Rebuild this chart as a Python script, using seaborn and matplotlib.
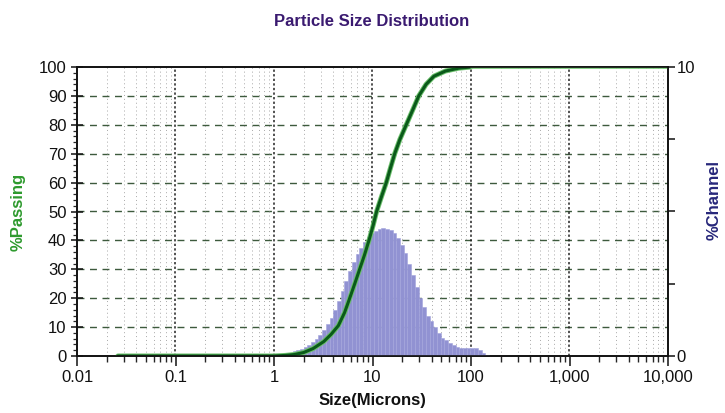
import numpy as np
import pandas as pd
import seaborn as sns
import matplotlib
matplotlib.use("Agg")
import matplotlib.pyplot as plt
import matplotlib.patheffects as pe
from matplotlib.ticker import FixedLocator, FixedFormatter, NullFormatter

# channel edges (microns) and % in each channel
channel_edges = [1.00, 1.09, 1.19, 1.30, 1.41, 1.54, 1.68, 1.83, 2.00, 2.18,
                 2.38, 2.59, 2.83, 3.08, 3.36, 3.67, 4.00, 4.36, 4.76, 5.19,
                 5.66, 6.17, 6.73, 7.34, 8.00, 8.72, 9.51, 10.37, 11.31, 12.34,
                 13.45, 14.67, 16.00, 17.45, 19.03, 20.75, 22.63, 24.68, 26.91, 29.34,
                 32.00, 34.90, 38.05, 41.50, 45.25, 49.35, 53.82, 58.69, 64.00, 69.79,
                 76.11, 83.00, 90.51, 98.70, 107.6, 117.4, 128.0, 139.6, 152.2]
channel_pct = [0.02, 0.04, 0.06, 0.09, 0.12, 0.16, 0.20, 0.25, 0.31, 0.38,
               0.47, 0.58, 0.72, 0.90, 1.10, 1.33, 1.60, 1.90, 2.25, 2.60,
               2.95, 3.25, 3.52, 3.75, 3.95, 4.12, 4.25, 4.34, 4.40, 4.42,
               4.40, 4.35, 4.25, 4.08, 3.85, 3.55, 3.20, 2.80, 2.40, 2.02,
               1.68, 1.38, 1.20, 1.00, 0.80, 0.62, 0.55, 0.44, 0.37, 0.31,
               0.28, 0.27, 0.27, 0.28, 0.27, 0.20, 0.10, 0.03]

# cumulative % passing curve
curve_size = [0.026, 0.1, 0.5, 1.0, 1.3, 1.6, 2.0, 2.5, 3.2, 3.8, 4.5, 5.2, 5.8,
              6.6, 7.4, 8.3, 9.3, 10.2, 11.0, 12.3, 13.8, 15.2, 16.8, 19.0, 22.0,
              25.5, 29.5, 35.0, 42.0, 55.0, 75.0, 100.0]
curve_pass = [0, 0, 0, 0, 0.2, 0.5, 1.2, 2.6, 5.0, 7.5, 10.5, 15.0, 19.5,
              25.0, 30.0, 35.0, 40.5, 45.5, 50.0, 55.0, 60.0, 65.0, 70.0, 75.0, 80.0,
              85.0, 90.0, 94.0, 96.8, 98.6, 99.6, 100.0]
# flat tail at 100 % beyond the top size
tail_size = [100.0, 10000.0]
tail_pass = [100.0, 100.0]

x_ticks = [0.01, 0.1, 1, 10, 100, 1000, 10000]
x_labels = ["0.01", "0.1", "1", "10", "100", "1,000", "10,000"]

sns.set_style("white")
plt.rcParams["font.family"] = ["Liberation Sans", "DejaVu Sans"]

fig = plt.figure(figsize=(7.25, 4.13), dpi=100)
ax = fig.add_axes([77 / 725, 1 - 356 / 413, 591 / 725, 289 / 413])
ax2 = ax.twinx()
# histogram + grid sit underneath, the curve on top
ax2.set_zorder(0)
ax.set_zorder(1)
ax.patch.set_visible(False)

edges = np.array(channel_edges)
df_ch = pd.DataFrame({"size": np.sqrt(edges[:-1] * edges[1:]), "pct": channel_pct})
log_edges = np.log10(edges)
# one bin per channel, evenly spaced in log size
sns.histplot(data=df_ch, x="size", weights="pct", log_scale=True,
             bins=len(channel_pct), binrange=(log_edges[0], log_edges[-1]),
             ax=ax2, color="#9192d2", edgecolor="#a3a4dc", linewidth=0.4,
             alpha=1, zorder=3)

ax.set_xscale("log")
ax.set_xlim(0.01, 10000)
ax.set_ylim(0, 100)
ax2.set_ylim(0, 10)

# grid drawn on the lower axes so bars cover it
for v in np.arange(1, 10):
    ax2.axhline(v, color="#3d5a3d", lw=1.0, ls=(0, (5, 4)), zorder=1)
for xv in x_ticks[1:-1]:
    ax2.axvline(xv, color="#222222", lw=1.1, ls=(0, (1.5, 1.5)), zorder=1)
for dec in [0.01, 0.1, 1, 10, 100, 1000]:
    for m in range(2, 10):
        ax2.axvline(dec * m, color="#a8a8a8", lw=0.7, ls=(0, (1, 3)), zorder=1)

sns.lineplot(x=curve_size, y=curve_pass, ax=ax, color="#0a5a1a", lw=2.2,
             path_effects=[pe.Stroke(linewidth=3.6, foreground="#6cc06c"), pe.Normal()])
sns.lineplot(x=tail_size, y=tail_pass, ax=ax, color="#7fcf7f", lw=2.0)

ax.xaxis.set_major_locator(FixedLocator(x_ticks))
ax.xaxis.set_major_formatter(FixedFormatter(x_labels))
minors = [d * m for d in [0.01, 0.1, 1, 10, 100, 1000] for m in range(2, 10)]
ax.xaxis.set_minor_locator(FixedLocator(minors))
ax.xaxis.set_minor_formatter(NullFormatter())

ax.set_yticks(np.arange(0, 101, 10))
ax.set_yticks(np.arange(0, 101, 2), minor=True)
ax2.set_yticks([0, 2.5, 5, 7.5, 10])
ax2.set_yticklabels(["0", "", "", "", "10"])

ax.tick_params(axis="x", which="major", direction="out", length=7, width=1.1,
               labelsize=12, colors="#111111", pad=3, bottom=True)
ax.tick_params(axis="x", which="minor", direction="out", length=4, width=1.0,
               bottom=True)
ax.tick_params(axis="y", which="major", direction="inout", length=8, width=1.1,
               labelsize=12, colors="#111111", left=True)
ax.tick_params(axis="y", which="minor", direction="out", length=3, width=0.9,
               left=True)
ax2.tick_params(axis="y", which="major", direction="out", length=5, width=1.1,
                labelsize=12, colors="#111111", right=True, pad=1)
ax2.tick_params(axis="x", which="both", bottom=False, labelbottom=False)

for a in (ax, ax2):
    for s in a.spines.values():
        s.set_visible(True)
        s.set_color("#111111")
        s.set_linewidth(1.2)

ax.set_xlabel("Size(Microns)", fontsize=12, fontweight="bold", color="#111111",
              labelpad=6)
ax2.set_xlabel("")
ax.set_ylabel("%Passing", fontsize=12, fontweight="bold", color="#2e9a2e")
ax.yaxis.set_label_coords(-0.087, 0.5)
ax2.set_ylabel("%Channel", fontsize=12, fontweight="bold", color="#27277a")
ax2.yaxis.set_label_coords(1.066, 0.54)

fig.text(0.513, 1 - 22 / 413, "Particle Size Distribution", ha="center", va="center",
         fontsize=12, fontweight="bold", color="#3a1a70",
         family=["Liberation Sans Narrow", "Liberation Sans", "DejaVu Sans"])

fig.savefig("out.png", dpi=100)
